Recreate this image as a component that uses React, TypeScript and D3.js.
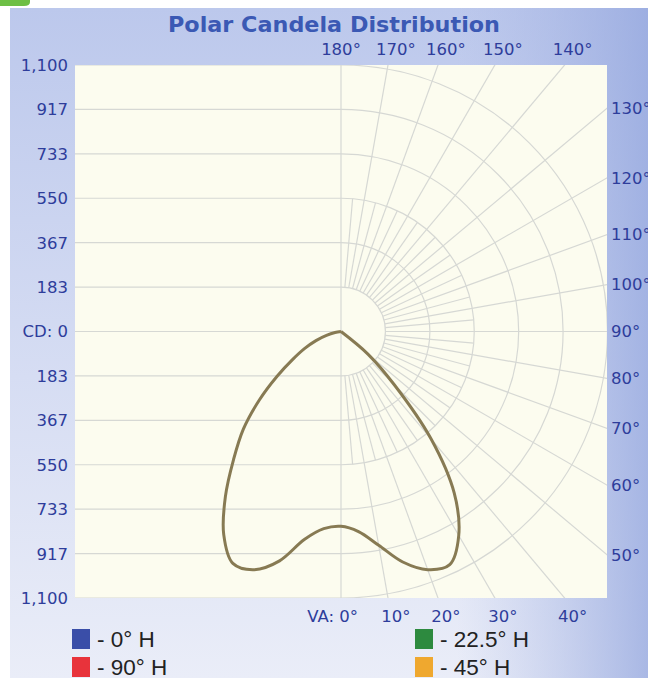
import React from "react";
import * as d3 from "d3";

// ---- data ----
const vaRightSide = [0, 5, 10, 15, 20, 25, 30, 35, 40, 45, 50, 55];
const cdRightSide = [804, 829, 896, 985, 1046, 1062, 972, 815, 577, 311, 145, 0];
const vaLeftSide = [0, 5, 10, 15, 20, 25, 30, 35, 40, 45, 50, 55, 60, 65, 70, 75, 80, 85];
const cdLeftSide = [804, 817, 872, 980, 1046, 1056, 968, 832, 690, 570, 440, 322, 230, 165, 110, 62, 25, 0];

const cdTicks = [183.33, 366.67, 550, 733.33, 916.67, 1100];
const vaTopTicks = [180, 170, 160, 150, 140];
const vaRightTicks = [130, 120, 110, 100, 90, 80, 70, 60, 50];
const vaBottomTicks = [0, 10, 20, 30, 40];
const gridMajorAngles = [10, 20, 30, 40, 50, 60, 70, 80, 90, 100, 110, 120, 130, 140, 150, 160, 170];
const gridMinorAngles = [5, 15, 25, 35, 45, 55, 65, 75, 85, 95, 105, 115, 125, 135, 145, 155, 165, 175];

const legendNames = ["- 0° H", "- 22.5° H", "- 90° H", "- 45° H"];
const legendColors = ["#3a4ea8", "#2d8a3f", "#e8333b", "#efa82f"];

const W = 648;
const H = 678;
const X0 = 75, X1 = 607, Y0 = 65, Y1 = 598;
const CX = 341, CY = 331.5, R = 266.5;

export default function App() {
  const r = d3.scaleLinear().domain([0, 1100]).range([0, R]);
  const fmt = d3.format(",.0f");
  const deg = Math.PI / 180;

  const pts: [number, number][] = [];
  for (let i = vaLeftSide.length - 1; i >= 0; i--) pts.push([Math.PI + vaLeftSide[i] * deg, r(cdLeftSide[i])]);
  for (let i = 1; i < vaRightSide.length; i++) pts.push([Math.PI - vaRightSide[i] * deg, r(cdRightSide[i])]);
  const line = d3
    .lineRadial<[number, number]>()
    .angle((d) => d[0])
    .radius((d) => d[1])
    .curve(d3.curveCatmullRom.alpha(0.5));
  const curvePath = line(pts) || "";

  const r1 = r(cdTicks[0]);
  const r3 = r(cdTicks[2]);
  const dir = (a: number) => [Math.sin(a * deg), Math.cos(a * deg)];

  const arcs = cdTicks.map((v) => {
    const p = d3.path();
    p.arc(CX, CY, r(v), -Math.PI / 2, Math.PI / 2);
    return p.toString();
  });

  const lblFont = "DejaVu Sans, Verdana, sans-serif";
  const lblColor = "#2e3d9b";
  const gridColor = "#d6d8d4";

  return (
    <svg width={W} height={H} style={{ position: "absolute", left: 0, top: 0 }}>
      <defs>
        <linearGradient id="bgv" x1="0" y1="0" x2="0" y2="1">
          <stop offset="0" stopColor="#bcc8ec" />
          <stop offset="0.55" stopColor="#d6ddf3" />
          <stop offset="1" stopColor="#eaedf8" />
        </linearGradient>
        <linearGradient id="bgh" x1="0" y1="0" x2="1" y2="0">
          <stop offset="0" stopColor="#a8b6e4" stopOpacity="0" />
          <stop offset="0.7" stopColor="#a8b6e4" stopOpacity="0" />
          <stop offset="1" stopColor="#93a6de" stopOpacity="0.75" />
        </linearGradient>
        <clipPath id="plotclip">
          <rect x={X0} y={Y0} width={X1 - X0} height={Y1 - Y0} />
        </clipPath>
      </defs>
      <rect x={0} y={0} width={W} height={H} fill="#ffffff" />
      <path d="M0,0 H30 V2 Q30,6 24,6 H0 Z" fill="#6dbf45" />
      <rect x={10} y={8} width={W - 10} height={H - 8} fill="url(#bgv)" />
      <rect x={10} y={8} width={W - 10} height={H - 8} fill="url(#bgh)" />

      <text x={334} y={32} textAnchor="middle" fontFamily={lblFont} fontWeight="bold" fontSize={21}
        fill="#3b59b4" textLength={332} lengthAdjust="spacingAndGlyphs">Polar Candela Distribution</text>

      <rect x={X0} y={Y0} width={X1 - X0} height={Y1 - Y0} fill="#fcfcef" />

      <g clipPath="url(#plotclip)" stroke={gridColor} strokeWidth={1.2} fill="none">
        {cdTicks.map((v, i) => (
          <g key={"h" + i}>
            <line x1={X0} x2={CX} y1={CY - r(v)} y2={CY - r(v)} />
            <line x1={X0} x2={CX} y1={CY + r(v)} y2={CY + r(v)} />
          </g>
        ))}
        <line x1={X0} x2={CX} y1={CY} y2={CY} />
        <line x1={CX} x2={CX} y1={Y0} y2={Y1} />
        {arcs.map((d, i) => <path key={"a" + i} d={d} />)}
        {gridMajorAngles.map((a) => {
          const [dx, dy] = dir(a);
          return <line key={"m" + a} x1={CX + dx * r1} y1={CY + dy * r1} x2={CX + dx * 700} y2={CY + dy * 700} />;
        })}
        {gridMinorAngles.map((a) => {
          const [dx, dy] = dir(a);
          return <line key={"n" + a} x1={CX + dx * r1} y1={CY + dy * r1} x2={CX + dx * r3} y2={CY + dy * r3} />;
        })}
      </g>

      <path d={curvePath} transform={`translate(${CX},${CY})`} fill="none" stroke="#877a53" strokeWidth={3} strokeLinejoin="round" />

      <g fontFamily={lblFont} fontSize={16.5} fill={lblColor}>
        <text x={68} y={CY} dy="0.36em" textAnchor="end">CD: 0</text>
        {cdTicks.map((v, i) => (
          <g key={"yl" + i}>
            <text x={68} y={CY - r(v)} dy="0.36em" textAnchor="end">{fmt(v)}</text>
            <text x={68} y={CY + r(v)} dy="0.36em" textAnchor="end">{fmt(v)}</text>
          </g>
        ))}
        {vaTopTicks.map((a) => (
          <text key={"t" + a} x={a === 180 ? CX : CX + R * Math.tan((180 - a) * deg) + 8} y={55} textAnchor="middle">{a}°</text>
        ))}
        {vaRightTicks.map((a) => (
          <text key={"r" + a} x={611} y={CY - R * Math.tan((a - 90) * deg)} dy="0.36em">{a}°</text>
        ))}
        {vaBottomTicks.map((a) => (
          a === 0 ? (
            <text key={"b" + a} x={CX + 17} y={622} textAnchor="end">VA: {a}°</text>
          ) : (
            <text key={"b" + a} x={CX + R * Math.tan(a * deg) + 8} y={622} textAnchor="middle">{a}°</text>
          )
        ))}
      </g>

      <g fontFamily="Liberation Sans, Arial, sans-serif" fontSize={22.5} fill="#222">
        {legendNames.map((n, i) => {
          const col = i % 2, row = Math.floor(i / 2);
          const x = col === 0 ? 72 : 415;
          const y = 629 + row * 28;
          return (
            <g key={"lg" + i}>
              <rect x={x} y={y} width={18} height={20} fill={legendColors[i]} />
              <text x={x + 25} y={y + 18}>{n}</text>
            </g>
          );
        })}
      </g>
    </svg>
  );
}
